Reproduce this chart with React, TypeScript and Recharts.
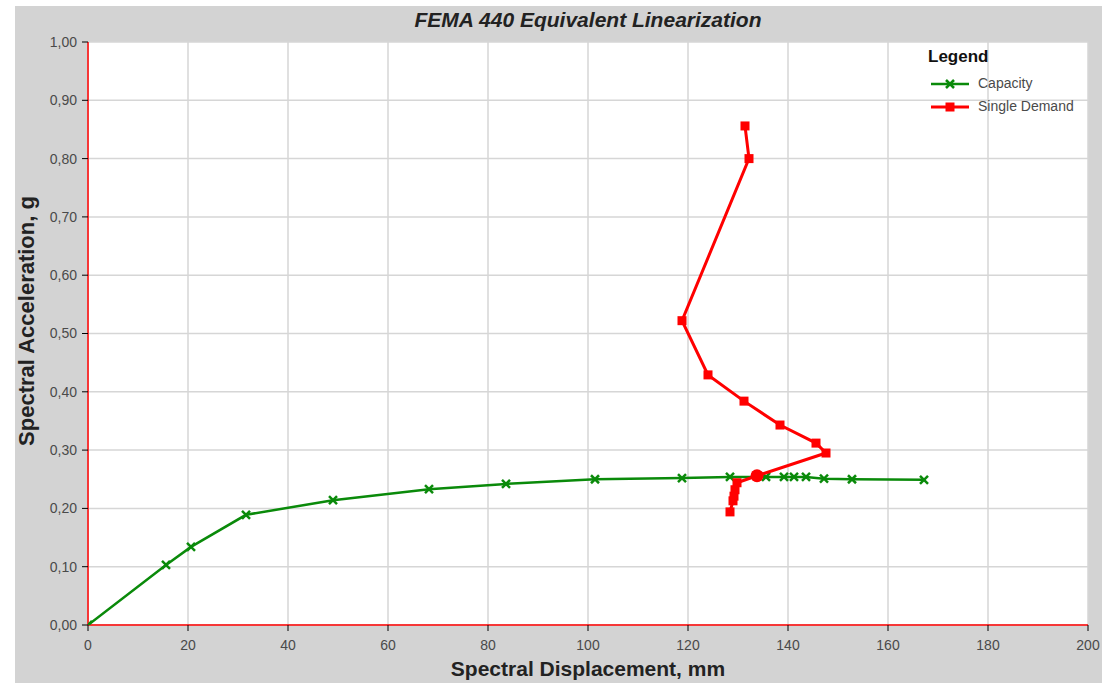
import React from 'react';
import { ScatterChart, Scatter, XAxis, YAxis, CartesianGrid } from 'recharts';

const capacityX = [0, 15.6, 20.6, 31.6, 49.0, 68.2, 83.6, 101.4, 118.8, 128.4, 135.6, 139.2, 141.2, 143.6, 147.2, 152.8, 167.2];
const capacityY = [0, 0.103, 0.134, 0.189, 0.214, 0.233, 0.242, 0.25, 0.252, 0.254, 0.254, 0.254, 0.254, 0.254, 0.251, 0.25, 0.249];

const demandX = [131.4, 132.2, 118.8, 124.0, 131.2, 138.4, 145.6, 147.6, 133.8, 129.8, 129.4, 129.2, 129.0, 128.4];
const demandY = [0.856, 0.8, 0.522, 0.429, 0.384, 0.343, 0.312, 0.295, 0.256, 0.244, 0.232, 0.221, 0.213, 0.194];

const perfX = [133.8];
const perfY = [0.256];

const xTicks = [0, 20, 40, 60, 80, 100, 120, 140, 160, 180, 200];
const yTicks = [0, 0.1, 0.2, 0.3, 0.4, 0.5, 0.6, 0.7, 0.8, 0.9, 1.0];

const capacityData = capacityX.map((x, i) => ({ x, y: capacityY[i] }));
const demandData = demandX.map((x, i) => ({ x, y: demandY[i] }));
const perfData = perfX.map((x, i) => ({ x, y: perfY[i] }));

const GREEN = '#0a8a0a';
const RED = '#ff0000';
const FONT = '"Liberation Sans", Arial, sans-serif';

const XMark = (props: any) => {
  const { cx, cy } = props;
  const s = 4;
  return (
    <g>
      <line x1={cx - s} y1={cy - s} x2={cx + s} y2={cy + s} stroke={GREEN} strokeWidth={2.5} />
      <line x1={cx - s} y1={cy + s} x2={cx + s} y2={cy - s} stroke={GREEN} strokeWidth={2.5} />
    </g>
  );
};

const Square = (props: any) => {
  const { cx, cy } = props;
  return <rect x={cx - 4.5} y={cy - 4.5} width={9} height={9} fill={RED} />;
};

const BigDot = (props: any) => {
  const { cx, cy } = props;
  return <circle cx={cx} cy={cy} r={6.5} fill={RED} />;
};

export default function App() {
  return (
    <div style={{ position: 'absolute', left: 0, top: 0, width: 1103, height: 683, background: '#fff', fontFamily: FONT }}>
      <div style={{ position: 'absolute', left: 15, top: 6, width: 1087, height: 677, background: '#d3d3d3' }} />
      <div style={{ position: 'absolute', left: 0, top: 0 }}>
        <ScatterChart width={1103} height={683} margin={{ top: 42, right: 15, bottom: 28, left: 28 }}>
          <CartesianGrid fill="#ffffff" stroke="#d6d6d6" strokeWidth={1.5} verticalValues={xTicks} horizontalValues={yTicks} />
          <XAxis
            type="number"
            dataKey="x"
            domain={[0, 200]}
            ticks={xTicks}
            interval={0}
            height={30}
            axisLine={{ stroke: RED, strokeWidth: 1.5 }}
            tickLine={{ stroke: '#000', strokeWidth: 1 }}
            tickSize={6}
            tickMargin={9}
            tick={{ fill: '#4a4a4a', fontSize: 14, fontFamily: FONT }}
            allowDataOverflow
          />
          <YAxis
            type="number"
            dataKey="y"
            domain={[0, 1]}
            ticks={yTicks}
            interval={0}
            width={60}
            axisLine={{ stroke: RED, strokeWidth: 1.5 }}
            tickLine={{ stroke: '#000', strokeWidth: 1 }}
            tickSize={6}
            tickMargin={5}
            tick={{ fill: '#4a4a4a', fontSize: 14, fontFamily: FONT }}
            tickFormatter={(v: number) => v.toFixed(2).replace('.', ',')}
            allowDataOverflow
          />
          <Scatter
            name="Capacity"
            data={capacityData}
            line={{ stroke: GREEN, strokeWidth: 2.5 }}
            shape={XMark}
            isAnimationActive={false}
          />
          <Scatter
            name="Single Demand"
            data={demandData}
            line={{ stroke: RED, strokeWidth: 3 }}
            shape={Square}
            isAnimationActive={false}
          />
          <Scatter name="Performance" data={perfData} shape={BigDot} isAnimationActive={false} />
        </ScatterChart>
      </div>
      <div style={{ position: 'absolute', left: 88, width: 1000, top: 8, textAlign: 'center', fontSize: 21, fontWeight: 'bold', fontStyle: 'italic', color: '#222' }}>
        FEMA 440 Equivalent Linearization
      </div>
      <div style={{ position: 'absolute', left: 88, width: 1000, top: 657, textAlign: 'center', fontSize: 21, fontWeight: 'bold', color: '#222' }}>
        Spectral Displacement, mm
      </div>
      <div style={{ position: 'absolute', left: 27, top: 321, width: 0, height: 0 }}>
        <div style={{ position: 'absolute', left: -200, top: -13, width: 400, textAlign: 'center', transform: 'rotate(-90deg)', fontSize: 22, fontWeight: 'bold', color: '#222', whiteSpace: 'nowrap' }}>
          Spectral Acceleration, g
        </div>
      </div>
      <div style={{ position: 'absolute', left: 928, top: 47, fontSize: 17, fontWeight: 'bold', color: '#111' }}>Legend</div>
      <svg style={{ position: 'absolute', left: 928, top: 76 }} width={45} height={40}>
        <line x1={3} y1={8} x2={41} y2={8} stroke={GREEN} strokeWidth={2.5} />
        <line x1={18} y1={4} x2={26} y2={12} stroke={GREEN} strokeWidth={2.5} />
        <line x1={18} y1={12} x2={26} y2={4} stroke={GREEN} strokeWidth={2.5} />
        <line x1={3} y1={31} x2={41} y2={31} stroke={RED} strokeWidth={3} />
        <rect x={17.5} y={26.5} width={9} height={9} fill={RED} />
      </svg>
      <div style={{ position: 'absolute', left: 978, top: 75, fontSize: 14, color: '#4a4a4a' }}>Capacity</div>
      <div style={{ position: 'absolute', left: 978, top: 98, fontSize: 14, color: '#4a4a4a' }}>Single Demand</div>
    </div>
  );
}
